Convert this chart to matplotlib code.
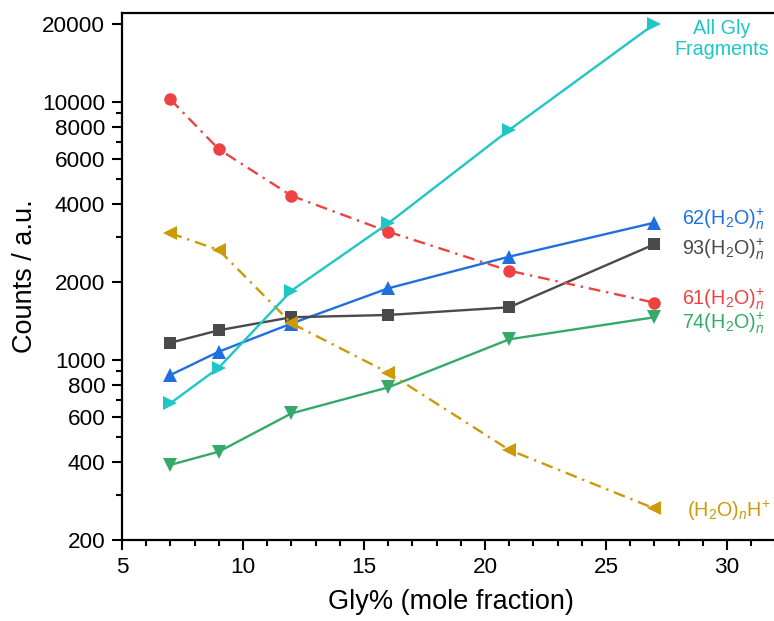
import matplotlib
matplotlib.use("Agg")
import matplotlib.pyplot as plt
from matplotlib.ticker import FixedLocator, NullFormatter, FuncFormatter, MultipleLocator

plt.rcParams['font.family'] = ['Liberation Sans', 'DejaVu Sans']
plt.rcParams['mathtext.fontset'] = 'custom'
plt.rcParams['mathtext.rm'] = 'Liberation Sans'
plt.rcParams['mathtext.it'] = 'Liberation Sans:italic'

# ---- data ----
gly = [7, 9, 12, 16, 21, 27]
c62 = [872, 1074, 1380, 1890, 2507, 3396]
c93 = [1163, 1300, 1460, 1490, 1596, 2800]
c61 = [10200, 6540, 4320, 3133, 2212, 1663]
c74 = [391, 440, 619, 781, 1199, 1460]
cH = [3090, 2661, 1384, 890, 447, 265]
call = [678, 931, 1851, 3376, 7766, 20000]

yticks_major = [200, 400, 600, 800, 1000, 2000, 4000, 6000, 8000, 10000, 20000]
yticks_minor = [300, 500, 700, 900, 3000, 5000, 7000, 9000]

fig = plt.figure(figsize=(7.74, 6.21), dpi=100)
W, H = 774, 621
ax = fig.add_axes([122 / W, 1 - 540 / H, (780 - 122) / W, (540 - 13) / H])
ax.set_yscale('log')
ax.set_xlim(5, 5 + (780 - 122) / 24.2)
ax.set_ylim(200, 22060)

dashdot = (0, (5, 2.5, 1, 2.5))
series = [
    (c62, '#1f6fde', '^', '-', 9.5, r'62(H$_2$O)$_{n}^{+}$', (28, 3)),
    (c93, '#4a4a4a', 's', '-', 8.0, r'93(H$_2$O)$_{n}^{+}$', (28, -5)),
    (c61, '#ee4242', 'o', dashdot, 9.0, r'61(H$_2$O)$_{n}^{+}$', (28, 3)),
    (c74, '#35a96a', 'v', '-', 9.5, r'74(H$_2$O)$_{n}^{+}$', (28, -6)),
    (cH, '#cc9a06', '<', dashdot, 9.5, r'(H$_2$O)$_{n}$H$^{+}$', (33, -2)),
    (call, '#1ec6c6', '>', '-', 9.5, 'All Gly\nFragments', (67, -15)),
]

for vals, col, mk, ls, ms, lab, off in series:
    ax.plot(gly, vals, color=col, marker=mk, linestyle=ls, lw=1.7,
            markersize=ms, markeredgewidth=0, clip_on=False, zorder=3)
    ha = 'center' if '\n' in lab else 'left'
    ax.annotate(lab, xy=(gly[-1], vals[-1]), xytext=(off[0], off[1]),
                textcoords='offset pixels', ha=ha, va='center',
                color=col, fontsize=14.2, linespacing=1.1)

ax.yaxis.set_major_locator(FixedLocator(yticks_major))
ax.yaxis.set_minor_locator(FixedLocator(yticks_minor))
ax.yaxis.set_major_formatter(FuncFormatter(lambda v, p: f'{int(round(v))}'))
ax.yaxis.set_minor_formatter(NullFormatter())
ax.xaxis.set_major_locator(FixedLocator([5, 10, 15, 20, 25, 30]))
ax.xaxis.set_minor_locator(MultipleLocator(1))

ax.tick_params(which='major', direction='out', length=7, width=1.5,
               labelsize=16.2, pad=5)
ax.tick_params(which='minor', direction='out', length=4, width=1.5)
for s in ['left', 'bottom', 'top']:
    ax.spines[s].set_linewidth(1.6)
ax.spines['right'].set_visible(False)

ax.set_xlabel('Gly% (mole fraction)', fontsize=19.5, labelpad=8)
ax.set_ylabel('Counts / a.u.', fontsize=19.5, labelpad=3)

fig.savefig('out.png', dpi=100)
